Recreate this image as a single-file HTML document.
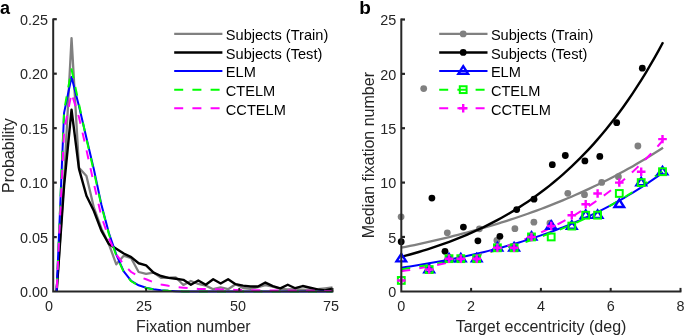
<!DOCTYPE html>
<html><head><meta charset="utf-8"><title>Figure</title>
<style>html,body{margin:0;padding:0;background:#fff;}body{width:685px;height:335px;overflow:hidden;font-family:"Liberation Sans",sans-serif;}svg{display:block;will-change:transform;}</style>
</head><body>
<svg width="685" height="335" viewBox="0 0 685 335" font-family="Liberation Sans, sans-serif">
<rect width="685" height="335" fill="#fff"/>
<text x="0.1" y="13.9" font-size="18" font-weight="bold" fill="#000">a</text>
<g fill="none" stroke-linejoin="round" stroke-linecap="butt">
<polyline points="56.63,291.60 64.08,180.46 71.54,38.05 79.00,167.71 86.45,176.10 93.91,207.70 101.36,228.40 108.82,243.98 116.28,264.36 123.73,255.64 131.19,258.26 138.64,271.99 146.10,273.95 153.56,272.53 161.01,277.87 168.47,277.65 175.92,277.44 183.38,284.95 190.84,281.03 198.29,283.97 205.75,285.61 213.20,289.20 220.66,287.35 228.12,289.20 235.57,284.19 243.03,288.00 250.48,288.88 257.94,287.24 265.40,285.06 272.85,286.70 280.31,288.88 287.76,289.42 295.22,289.20 302.68,289.64 310.13,289.97 317.59,289.20 325.04,288.33 332.50,287.46" stroke="#808080" stroke-width="2.3"/>
<polyline points="56.63,291.60 64.08,185.91 71.54,109.64 79.00,168.91 86.45,195.72 93.91,210.97 101.36,230.58 108.82,243.98 116.28,248.78 123.73,253.46 131.19,257.06 138.64,263.27 146.10,265.45 153.56,272.64 161.01,276.02 168.47,277.87 175.92,278.74 183.38,279.83 190.84,284.74 198.29,280.49 205.75,284.74 213.20,279.29 220.66,283.43 228.12,279.29 235.57,284.19 243.03,285.61 250.48,286.48 257.94,286.48 265.40,282.56 272.85,286.04 280.31,288.33 287.76,284.74 295.22,288.22 302.68,286.04 310.13,287.79 317.59,289.42 325.04,290.51 332.50,288.66" stroke="#000" stroke-width="2.4"/>
<polyline points="56.63,291.60 64.08,112.91 71.54,76.95 79.00,106.37 86.45,137.97 93.91,169.56 101.36,204.43 108.82,232.76 116.28,254.55 123.73,271.44 131.19,280.92 138.64,285.28 146.10,287.79 153.56,289.31 161.01,290.29 168.47,290.84 175.92,291.16 183.38,291.38 190.84,291.44 198.29,291.49 205.75,291.60 213.20,291.60 220.66,291.60 228.12,291.60 235.57,291.60 243.03,291.60 250.48,291.60 257.94,291.60 265.40,291.60 272.85,291.60 280.31,291.60 287.76,291.60 295.22,291.60 302.68,291.60 310.13,291.60 317.59,291.60 325.04,291.60 332.50,291.60" stroke="#0000ff" stroke-width="2"/>
<polyline points="56.63,291.60 64.08,110.73 71.54,69.32 79.00,104.19 86.45,139.06 93.91,171.74 101.36,205.52 108.82,233.85 116.28,255.64 123.73,271.99 131.19,281.25 138.64,285.50 146.10,287.90 153.56,289.42 161.01,290.29 168.47,290.84 175.92,291.16 183.38,291.38 190.84,291.44 198.29,291.49 205.75,291.60 213.20,291.60 220.66,291.60 228.12,291.60 235.57,291.60 243.03,291.60 250.48,291.60 257.94,291.60 265.40,291.60 272.85,291.60 280.31,291.60 287.76,291.60 295.22,291.60 302.68,291.60 310.13,291.60 317.59,291.60 325.04,291.60 332.50,291.60" stroke="#00ff00" stroke-width="2" stroke-dasharray="9 9.2" stroke-dashoffset="-4.5"/>
<polyline points="56.63,291.60 64.08,130.34 71.54,93.29 79.00,117.26 86.45,149.95 93.91,183.73 101.36,216.42 108.82,238.21 116.28,254.55 123.73,264.36 131.19,271.99 138.64,276.56 146.10,279.29 153.56,282.23 161.01,284.41 168.47,285.83 175.92,286.91 183.38,287.68 190.84,288.33 198.29,288.88 205.75,289.09 213.20,289.31 220.66,289.53 228.12,289.71 235.57,289.89 243.03,290.07 250.48,290.18 257.94,290.29 265.40,290.40 272.85,290.47 280.31,290.55 287.76,290.62 295.22,290.69 302.68,290.76 310.13,290.84 317.59,290.87 325.04,290.91 332.50,290.95" stroke="#ff00ff" stroke-width="2" stroke-dasharray="9 9.2" stroke-dashoffset="-3.5"/>
</g>
<path d="M53.2,18.6 V291.6 H333.4" fill="none" stroke="#262626" stroke-width="2"/>
<text x="48" y="297.30" font-size="14.4" text-anchor="end" fill="#262626">0.00</text>
<path d="M53.2,237.12 H56.8" stroke="#262626" stroke-width="2.2"/>
<text x="48" y="242.82" font-size="14.4" text-anchor="end" fill="#262626">0.05</text>
<path d="M53.2,182.64 H56.8" stroke="#262626" stroke-width="2.2"/>
<text x="48" y="188.34" font-size="14.4" text-anchor="end" fill="#262626">0.10</text>
<path d="M53.2,128.16 H56.8" stroke="#262626" stroke-width="2.2"/>
<text x="48" y="133.86" font-size="14.4" text-anchor="end" fill="#262626">0.15</text>
<path d="M53.2,73.68 H56.8" stroke="#262626" stroke-width="2.2"/>
<text x="48" y="79.38" font-size="14.4" text-anchor="end" fill="#262626">0.20</text>
<path d="M53.2,19.20 H56.8" stroke="#262626" stroke-width="2.2"/>
<text x="48" y="24.90" font-size="14.4" text-anchor="end" fill="#262626">0.25</text>
<path d="M146.10,291.6 V288.0" stroke="#262626" stroke-width="2"/>
<path d="M239.30,291.6 V288.0" stroke="#262626" stroke-width="2"/>
<path d="M332.50,291.6 V288.0" stroke="#262626" stroke-width="2"/>
<text x="49.00" y="310.5" font-size="14.4" text-anchor="middle" fill="#262626">0</text>
<text x="144.10" y="310.5" font-size="14.4" text-anchor="middle" fill="#262626">25</text>
<text x="237.90" y="310.5" font-size="14.4" text-anchor="middle" fill="#262626">50</text>
<text x="330.90" y="310.5" font-size="14.4" text-anchor="middle" fill="#262626">75</text>
<text x="193.3" y="332.0" font-size="16" text-anchor="middle" fill="#262626">Fixation number</text>
<text transform="translate(13.8,155.6) rotate(-90)" font-size="16" text-anchor="middle" fill="#262626">Probability</text>
<path d="M174.2,33.9 H222.4" stroke="#808080" stroke-width="2.3"/>
<path d="M174.2,52.45 H222.4" stroke="#000" stroke-width="2.4"/>
<path d="M174.2,71.0 H222.4" stroke="#0000ff" stroke-width="2.2"/>
<path d="M174.2,89.65 H222.4" stroke="#00ff00" stroke-width="2" stroke-dasharray="9 9.2"/>
<path d="M174.2,108.3 H222.4" stroke="#ff00ff" stroke-width="2" stroke-dasharray="9 9.2"/>
<text x="225.8" y="39.90" font-size="14.6" fill="#000">Subjects (Train)</text>
<text x="225.8" y="58.65" font-size="14.6" fill="#000">Subjects (Test)</text>
<text x="225.8" y="77.40" font-size="14.6" fill="#000">ELM</text>
<text x="225.8" y="95.85" font-size="14.6" fill="#000">CTELM</text>
<text x="225.8" y="114.60" font-size="14.6" fill="#000">CCTELM</text>
<text x="359.3" y="14.0" font-size="19" font-weight="bold" fill="#000">b</text>
<circle cx="401.10" cy="216.80" r="3.4" fill="#808080"/>
<circle cx="423.70" cy="88.60" r="3.4" fill="#808080"/>
<circle cx="447.30" cy="232.80" r="3.4" fill="#808080"/>
<circle cx="479.40" cy="228.80" r="3.4" fill="#808080"/>
<circle cx="496.90" cy="240.50" r="3.4" fill="#808080"/>
<circle cx="514.90" cy="228.70" r="3.4" fill="#808080"/>
<circle cx="533.90" cy="222.20" r="3.4" fill="#808080"/>
<circle cx="549.90" cy="223.10" r="3.4" fill="#808080"/>
<circle cx="567.80" cy="193.30" r="3.4" fill="#808080"/>
<circle cx="584.50" cy="194.70" r="3.4" fill="#808080"/>
<circle cx="601.70" cy="182.40" r="3.4" fill="#808080"/>
<circle cx="618.40" cy="176.70" r="3.4" fill="#808080"/>
<circle cx="637.90" cy="146.00" r="3.4" fill="#808080"/>
<circle cx="401.20" cy="241.70" r="3.4" fill="#000"/>
<circle cx="431.90" cy="198.10" r="3.4" fill="#000"/>
<circle cx="445.00" cy="251.30" r="3.4" fill="#000"/>
<circle cx="463.40" cy="227.10" r="3.4" fill="#000"/>
<circle cx="477.90" cy="240.80" r="3.4" fill="#000"/>
<circle cx="499.90" cy="236.30" r="3.4" fill="#000"/>
<circle cx="516.70" cy="209.60" r="3.4" fill="#000"/>
<circle cx="534.00" cy="199.20" r="3.4" fill="#000"/>
<circle cx="552.30" cy="164.70" r="3.4" fill="#000"/>
<circle cx="565.30" cy="155.50" r="3.4" fill="#000"/>
<circle cx="584.90" cy="160.90" r="3.4" fill="#000"/>
<circle cx="599.80" cy="156.40" r="3.4" fill="#000"/>
<circle cx="616.70" cy="122.70" r="3.4" fill="#000"/>
<circle cx="642.30" cy="68.20" r="3.4" fill="#000"/>
<g fill="none">
<polyline points="401.30,247.70 405.66,246.83 410.03,245.94 414.39,245.03 418.75,244.10 423.11,243.15 427.48,242.19 431.84,241.20 436.20,240.20 440.56,239.17 444.93,238.12 449.29,237.06 453.65,235.97 458.01,234.86 462.38,233.73 466.74,232.57 471.10,231.39 475.46,230.19 479.82,228.97 484.19,227.72 488.55,226.44 492.91,225.14 497.27,223.81 501.64,222.46 506.00,221.08 510.36,219.67 514.73,218.23 519.09,216.76 523.45,215.27 527.81,213.74 532.17,212.19 536.54,210.60 540.90,208.98 545.26,207.33 549.62,205.65 553.99,203.93 558.35,202.18 562.71,200.39 567.08,198.56 571.44,196.70 575.80,194.81 580.16,192.87 584.52,190.90 588.89,188.88 593.25,186.83 597.61,184.73 601.98,182.59 606.34,180.41 610.70,178.19 615.06,175.92 619.42,173.60 623.79,171.24 628.15,168.83 632.51,166.38 636.88,163.87 641.24,161.31 645.60,158.71 649.96,156.05 654.33,153.33 658.69,150.57 663.05,147.74" stroke="#808080" stroke-width="2.3"/>
<polyline points="401.30,256.84 405.66,255.68 410.03,254.49 414.39,253.25 418.75,251.98 423.11,250.66 427.48,249.30 431.84,247.89 436.20,246.44 440.56,244.93 444.93,243.38 449.29,241.77 453.65,240.11 458.01,238.40 462.38,236.63 466.74,234.79 471.10,232.90 475.46,230.94 479.82,228.92 484.19,226.83 488.55,224.67 492.91,222.44 497.27,220.13 501.64,217.74 506.00,215.28 510.36,212.73 514.73,210.10 519.09,207.38 523.45,204.56 527.81,201.66 532.17,198.65 536.54,195.55 540.90,192.34 545.26,189.02 549.62,185.60 553.99,182.05 558.35,178.39 562.71,174.61 567.08,170.70 571.44,166.66 575.80,162.48 580.16,158.16 584.52,153.70 588.89,149.09 593.25,144.32 597.61,139.40 601.98,134.31 606.34,129.05 610.70,123.61 615.06,117.99 619.42,112.18 623.79,106.18 628.15,99.98 632.51,93.56 636.88,86.94 641.24,80.09 645.60,73.01 649.96,65.70 654.33,58.13 658.69,50.32 663.05,42.25" stroke="#000" stroke-width="2.4"/>
<polyline points="401.30,267.71 405.66,267.06 410.03,266.40 414.39,265.72 418.75,265.02 423.11,264.30 427.48,263.57 431.84,262.81 436.20,262.03 440.56,261.23 444.93,260.41 449.29,259.57 453.65,258.70 458.01,257.81 462.38,256.89 466.74,255.95 471.10,254.99 475.46,254.00 479.82,252.98 484.19,251.93 488.55,250.86 492.91,249.75 497.27,248.62 501.64,247.45 506.00,246.25 510.36,245.02 514.73,243.76 519.09,242.46 523.45,241.12 527.81,239.75 532.17,238.35 536.54,236.90 540.90,235.41 545.26,233.89 549.62,232.32 553.99,230.71 558.35,229.05 562.71,227.35 567.08,225.61 571.44,223.81 575.80,221.97 580.16,220.07 584.52,218.13 588.89,216.13 593.25,214.08 597.61,211.97 601.98,209.80 606.34,207.57 610.70,205.29 615.06,202.94 619.42,200.52 623.79,198.04 628.15,195.49 632.51,192.88 636.88,190.19 641.24,187.43 645.60,184.59 649.96,181.67 654.33,178.68 658.69,175.60 663.05,172.44" stroke="#0000ff" stroke-width="2"/>
<polyline points="401.30,269.34 405.66,268.71 410.03,268.05 414.39,267.38 418.75,266.69 423.11,265.98 427.48,265.25 431.84,264.50 436.20,263.73 440.56,262.93 444.93,262.11 449.29,261.27 453.65,260.41 458.01,259.52 462.38,258.60 466.74,257.66 471.10,256.68 475.46,255.69 479.82,254.66 484.19,253.60 488.55,252.51 492.91,251.40 497.27,250.24 501.64,249.06 506.00,247.84 510.36,246.59 514.73,245.30 519.09,243.97 523.45,242.61 527.81,241.20 532.17,239.76 536.54,238.27 540.90,236.74 545.26,235.17 549.62,233.55 553.99,231.88 558.35,230.17 562.71,228.40 567.08,226.59 571.44,224.72 575.80,222.80 580.16,220.83 584.52,218.79 588.89,216.70 593.25,214.55 597.61,212.34 601.98,210.06 606.34,207.72 610.70,205.31 615.06,202.82 619.42,200.27 623.79,197.65 628.15,194.95 632.51,192.17 636.88,189.31 641.24,186.36 645.60,183.34 649.96,180.22 654.33,177.02 658.69,173.72 663.05,170.33" stroke="#00ff00" stroke-width="2" stroke-dasharray="9 9.2"/>
<polyline points="401.30,271.30 405.66,270.61 410.03,269.90 414.39,269.17 418.75,268.41 423.11,267.62 427.48,266.81 431.84,265.97 436.20,265.11 440.56,264.21 444.93,263.28 449.29,262.32 453.65,261.33 458.01,260.30 462.38,259.24 466.74,258.14 471.10,257.00 475.46,255.82 479.82,254.61 484.19,253.35 488.55,252.05 492.91,250.70 497.27,249.31 501.64,247.87 506.00,246.39 510.36,244.85 514.73,243.25 519.09,241.61 523.45,239.90 527.81,238.14 532.17,236.32 536.54,234.44 540.90,232.49 545.26,230.47 549.62,228.39 553.99,226.23 558.35,224.00 562.71,221.69 567.08,219.31 571.44,216.84 575.80,214.29 580.16,211.65 584.52,208.92 588.89,206.10 593.25,203.18 597.61,200.15 601.98,197.03 606.34,193.80 610.70,190.46 615.06,187.00 619.42,183.43 623.79,179.73 628.15,175.91 632.51,171.95 636.88,167.86 641.24,163.63 645.60,159.25 649.96,154.73 654.33,150.05 658.69,145.21 663.05,140.20" stroke="#ff00ff" stroke-width="2" stroke-dasharray="9 9.2"/>
</g>
<path d="M401.30,253.88 L406.10,261.38 L396.50,261.38 Z" fill="none" stroke="#0000ff" stroke-width="2.4" stroke-linejoin="miter" stroke-miterlimit="10"/>
<path d="M429.20,264.76 L434.00,272.26 L424.40,272.26 Z" fill="none" stroke="#0000ff" stroke-width="2.4" stroke-linejoin="miter" stroke-miterlimit="10"/>
<path d="M449.00,253.88 L453.80,261.38 L444.20,261.38 Z" fill="none" stroke="#0000ff" stroke-width="2.4" stroke-linejoin="miter" stroke-miterlimit="10"/>
<path d="M460.80,253.88 L465.60,261.38 L456.00,261.38 Z" fill="none" stroke="#0000ff" stroke-width="2.4" stroke-linejoin="miter" stroke-miterlimit="10"/>
<path d="M476.70,253.88 L481.50,261.38 L471.90,261.38 Z" fill="none" stroke="#0000ff" stroke-width="2.4" stroke-linejoin="miter" stroke-miterlimit="10"/>
<path d="M497.40,243.01 L502.20,250.51 L492.60,250.51 Z" fill="none" stroke="#0000ff" stroke-width="2.4" stroke-linejoin="miter" stroke-miterlimit="10"/>
<path d="M514.10,243.01 L518.90,250.51 L509.30,250.51 Z" fill="none" stroke="#0000ff" stroke-width="2.4" stroke-linejoin="miter" stroke-miterlimit="10"/>
<path d="M531.50,232.14 L536.30,239.64 L526.70,239.64 Z" fill="none" stroke="#0000ff" stroke-width="2.4" stroke-linejoin="miter" stroke-miterlimit="10"/>
<path d="M551.20,221.27 L556.00,228.77 L546.40,228.77 Z" fill="none" stroke="#0000ff" stroke-width="2.4" stroke-linejoin="miter" stroke-miterlimit="10"/>
<path d="M571.80,221.27 L576.60,228.77 L567.00,228.77 Z" fill="none" stroke="#0000ff" stroke-width="2.4" stroke-linejoin="miter" stroke-miterlimit="10"/>
<path d="M585.70,210.40 L590.50,217.90 L580.90,217.90 Z" fill="none" stroke="#0000ff" stroke-width="2.4" stroke-linejoin="miter" stroke-miterlimit="10"/>
<path d="M597.60,210.40 L602.40,217.90 L592.80,217.90 Z" fill="none" stroke="#0000ff" stroke-width="2.4" stroke-linejoin="miter" stroke-miterlimit="10"/>
<path d="M619.30,199.52 L624.10,207.02 L614.50,207.02 Z" fill="none" stroke="#0000ff" stroke-width="2.4" stroke-linejoin="miter" stroke-miterlimit="10"/>
<path d="M641.20,177.78 L646.00,185.28 L636.40,185.28 Z" fill="none" stroke="#0000ff" stroke-width="2.4" stroke-linejoin="miter" stroke-miterlimit="10"/>
<path d="M662.50,166.91 L667.30,174.41 L657.70,174.41 Z" fill="none" stroke="#0000ff" stroke-width="2.4" stroke-linejoin="miter" stroke-miterlimit="10"/>
<rect x="397.90" y="277.03" width="6.8" height="6.8" fill="none" stroke="#00ff00" stroke-width="2"/>
<rect x="425.80" y="266.16" width="6.8" height="6.8" fill="none" stroke="#00ff00" stroke-width="2"/>
<rect x="445.60" y="255.28" width="6.8" height="6.8" fill="none" stroke="#00ff00" stroke-width="2"/>
<rect x="457.40" y="255.28" width="6.8" height="6.8" fill="none" stroke="#00ff00" stroke-width="2"/>
<rect x="473.30" y="255.28" width="6.8" height="6.8" fill="none" stroke="#00ff00" stroke-width="2"/>
<rect x="494.00" y="244.41" width="6.8" height="6.8" fill="none" stroke="#00ff00" stroke-width="2"/>
<rect x="510.70" y="244.41" width="6.8" height="6.8" fill="none" stroke="#00ff00" stroke-width="2"/>
<rect x="528.10" y="233.54" width="6.8" height="6.8" fill="none" stroke="#00ff00" stroke-width="2"/>
<rect x="547.80" y="233.54" width="6.8" height="6.8" fill="none" stroke="#00ff00" stroke-width="2"/>
<rect x="568.40" y="222.67" width="6.8" height="6.8" fill="none" stroke="#00ff00" stroke-width="2"/>
<rect x="582.30" y="211.80" width="6.8" height="6.8" fill="none" stroke="#00ff00" stroke-width="2"/>
<rect x="594.20" y="211.80" width="6.8" height="6.8" fill="none" stroke="#00ff00" stroke-width="2"/>
<rect x="615.90" y="190.05" width="6.8" height="6.8" fill="none" stroke="#00ff00" stroke-width="2"/>
<rect x="637.80" y="179.18" width="6.8" height="6.8" fill="none" stroke="#00ff00" stroke-width="2"/>
<rect x="659.10" y="168.31" width="6.8" height="6.8" fill="none" stroke="#00ff00" stroke-width="2"/>
<path d="M397.00,280.43 H405.60 M401.30,276.23 V284.63" stroke="#ff00ff" stroke-width="2.4" fill="none"/>
<path d="M424.90,269.56 H433.50 M429.20,265.36 V273.76" stroke="#ff00ff" stroke-width="2.4" fill="none"/>
<path d="M444.70,258.68 H453.30 M449.00,254.48 V262.88" stroke="#ff00ff" stroke-width="2.4" fill="none"/>
<path d="M456.50,258.68 H465.10 M460.80,254.48 V262.88" stroke="#ff00ff" stroke-width="2.4" fill="none"/>
<path d="M472.40,258.68 H481.00 M476.70,254.48 V262.88" stroke="#ff00ff" stroke-width="2.4" fill="none"/>
<path d="M493.10,247.81 H501.70 M497.40,243.61 V252.01" stroke="#ff00ff" stroke-width="2.4" fill="none"/>
<path d="M509.80,247.81 H518.40 M514.10,243.61 V252.01" stroke="#ff00ff" stroke-width="2.4" fill="none"/>
<path d="M527.20,236.94 H535.80 M531.50,232.74 V241.14" stroke="#ff00ff" stroke-width="2.4" fill="none"/>
<path d="M546.90,226.07 H555.50 M551.20,221.87 V230.27" stroke="#ff00ff" stroke-width="2.4" fill="none"/>
<path d="M567.50,215.20 H576.10 M571.80,211.00 V219.40" stroke="#ff00ff" stroke-width="2.4" fill="none"/>
<path d="M581.40,204.32 H590.00 M585.70,200.12 V208.52" stroke="#ff00ff" stroke-width="2.4" fill="none"/>
<path d="M593.30,193.45 H601.90 M597.60,189.25 V197.65" stroke="#ff00ff" stroke-width="2.4" fill="none"/>
<path d="M615.00,182.58 H623.60 M619.30,178.38 V186.78" stroke="#ff00ff" stroke-width="2.4" fill="none"/>
<path d="M636.90,171.71 H645.50 M641.20,167.51 V175.91" stroke="#ff00ff" stroke-width="2.4" fill="none"/>
<path d="M658.20,139.09 H666.80 M662.50,134.89 V143.29" stroke="#ff00ff" stroke-width="2.4" fill="none"/>
<path d="M401.3,18.4 V291.5 H681.4" fill="none" stroke="#262626" stroke-width="2"/>
<text x="396.2" y="297.00" font-size="14.4" text-anchor="end" fill="#262626">0</text>
<path d="M401.3,236.94 H405" stroke="#262626" stroke-width="2.2"/>
<text x="396.2" y="242.64" font-size="14.4" text-anchor="end" fill="#262626">5</text>
<path d="M401.3,182.58 H405" stroke="#262626" stroke-width="2.2"/>
<text x="396.2" y="188.28" font-size="14.4" text-anchor="end" fill="#262626">10</text>
<path d="M401.3,128.22 H405" stroke="#262626" stroke-width="2.2"/>
<text x="396.2" y="133.92" font-size="14.4" text-anchor="end" fill="#262626">15</text>
<path d="M401.3,73.86 H405" stroke="#262626" stroke-width="2.2"/>
<text x="396.2" y="79.56" font-size="14.4" text-anchor="end" fill="#262626">20</text>
<path d="M401.3,19.50 H405" stroke="#262626" stroke-width="2.2"/>
<text x="396.2" y="25.20" font-size="14.4" text-anchor="end" fill="#262626">25</text>
<text x="401.30" y="310.5" font-size="14.4" text-anchor="middle" fill="#262626">0</text>
<path d="M471.10,291.5 V287.9" stroke="#262626" stroke-width="2"/>
<text x="471.10" y="310.5" font-size="14.4" text-anchor="middle" fill="#262626">2</text>
<path d="M540.90,291.5 V287.9" stroke="#262626" stroke-width="2"/>
<text x="540.90" y="310.5" font-size="14.4" text-anchor="middle" fill="#262626">4</text>
<path d="M610.70,291.5 V287.9" stroke="#262626" stroke-width="2"/>
<text x="610.70" y="310.5" font-size="14.4" text-anchor="middle" fill="#262626">6</text>
<path d="M680.50,291.5 V287.9" stroke="#262626" stroke-width="2"/>
<text x="680.50" y="310.5" font-size="14.4" text-anchor="middle" fill="#262626">8</text>
<text x="541.0" y="332.0" font-size="16" text-anchor="middle" fill="#262626">Target eccentricity (deg)</text>
<text transform="translate(373.5,155.2) rotate(-90)" font-size="16" text-anchor="middle" fill="#262626">Median fixation number</text>
<path d="M439.2,33.9 H487.5" stroke="#808080" stroke-width="2.3"/>
<circle cx="463.20" cy="33.90" r="3.4" fill="#808080"/>
<path d="M439.2,52.45 H487.5" stroke="#000" stroke-width="2.4"/>
<circle cx="463.20" cy="52.45" r="3.4" fill="#000"/>
<path d="M439.2,71.0 H487.5" stroke="#0000ff" stroke-width="2.2"/>
<path d="M463.20,66.20 L468.00,73.70 L458.40,73.70 Z" fill="none" stroke="#0000ff" stroke-width="2.4" stroke-linejoin="miter" stroke-miterlimit="10"/>
<path d="M439.2,89.65 H487.5" stroke="#00ff00" stroke-width="2" stroke-dasharray="9 9.2"/>
<rect x="459.80" y="86.25" width="6.8" height="6.8" fill="none" stroke="#00ff00" stroke-width="2"/>
<path d="M439.2,108.3 H487.5" stroke="#ff00ff" stroke-width="2" stroke-dasharray="9 9.2"/>
<path d="M458.90,108.30 H467.50 M463.20,104.10 V112.50" stroke="#ff00ff" stroke-width="2.4" fill="none"/>
<text x="490.9" y="39.90" font-size="14.6" fill="#000">Subjects (Train)</text>
<text x="490.9" y="58.65" font-size="14.6" fill="#000">Subjects (Test)</text>
<text x="490.9" y="77.40" font-size="14.6" fill="#000">ELM</text>
<text x="490.9" y="95.85" font-size="14.6" fill="#000">CTELM</text>
<text x="490.9" y="114.60" font-size="14.6" fill="#000">CCTELM</text>
</svg>
</body></html>
